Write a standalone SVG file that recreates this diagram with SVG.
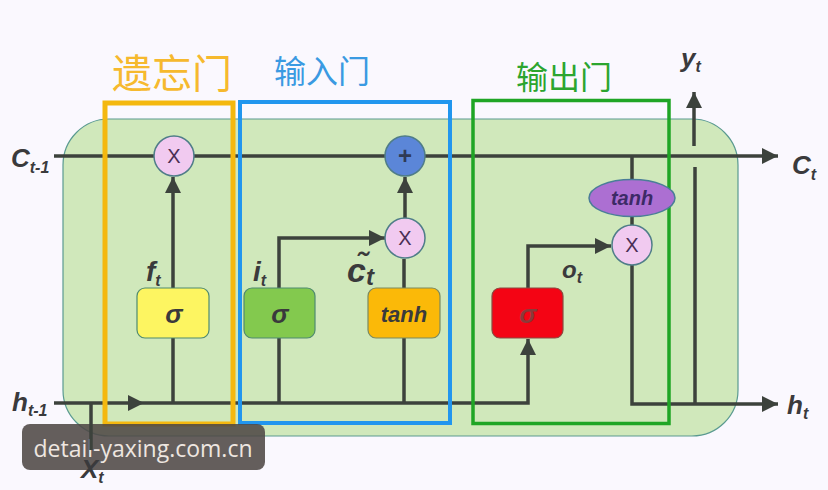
<svg xmlns="http://www.w3.org/2000/svg" width="828" height="490" viewBox="0 0 828 490">
<style>
.w{fill:none;stroke:#3c423c;stroke-width:3.5}
.v{font-family:"Liberation Sans",Arial,sans-serif;font-weight:bold;font-style:italic;fill:#3a3a3c}
.big{font-size:26px}
.sub{font-size:16px}
.m{font-family:"Liberation Sans",Arial,sans-serif;fill:#4a2f55;font-size:20px;text-anchor:middle}
.lbl{font-family:"Noto Sans CJK SC",sans-serif;text-anchor:middle;font-weight:400}
.gate{fill:none;stroke-width:4}
.box{stroke:#4f8a70;stroke-width:1.2}
.mul{fill:#f1caf0;stroke:#4f7d88;stroke-width:1.5}
.st{font-family:"Liberation Sans",Arial,sans-serif;font-weight:bold;font-style:italic;font-size:22px;fill:#3a3a3c;text-anchor:middle}
</style>
<defs>
<marker id="a" markerUnits="userSpaceOnUse" markerWidth="18" markerHeight="18" refX="16" refY="8" orient="auto"><path d="M0 0L16 8L0 16Z" fill="#3c423c"/></marker>
</defs>
<rect width="828" height="490" fill="#faf8fe"/>
<g id="cell"><rect x="63" y="119" width="675" height="317" rx="46" fill="#d0e8bb" stroke="#5a9a90" stroke-width="1.2"/></g>
<g id="connectors">
<path class="w" d="M54 156H778" marker-end="url(#a)"/>
<path class="w" d="M54 403H144" marker-end="url(#a)"/>
<path class="w" d="M144 403H528V339" marker-end="url(#a)"/>
<path class="w" d="M173 403V338M173 288V210"/><path class="w" d="M173 210V177" marker-end="url(#a)"/>
<path class="w" d="M279 403V338M279 288V238H385" marker-end="url(#a)"/>
<path class="w" d="M404 403V338M404 288V259"/>
<path class="w" d="M405 218V177" marker-end="url(#a)"/>
<path class="w" d="M528 288V246H611" marker-end="url(#a)"/>
<path class="w" d="M632 156V266M632 266V404H778" marker-end="url(#a)"/>
<path class="w" d="M695 404V167"/>
<path class="w" d="M694 146V92" marker-end="url(#a)"/>
</g>
<g id="gate-forget"><rect class="gate" x="105" y="103" width="128" height="321" stroke="#f4b80f" style="stroke-width:5"/><text class="lbl" x="172" y="88" font-size="40" fill="#f6b92e">遗忘门</text></g>
<g id="gate-input"><rect class="gate" x="240" y="102" width="210" height="321" stroke="#2196ee"/><text class="lbl" x="322" y="83" font-size="32" fill="#3a9ae2">输入门</text></g>
<g id="gate-output"><rect class="gate" x="473" y="100.500" width="196" height="323" stroke="#1fa525" style="stroke-width:3.5"/><text class="lbl" x="564" y="89" font-size="32" fill="#2ca52f">输出门</text></g>
<g id="mul-f"><circle class="mul" cx="174" cy="156" r="20"/><text class="m" x="174" y="163">X</text></g>
<g id="add"><circle cx="405" cy="156" r="20" fill="#5b86d8" stroke="#4f7d88" stroke-width="1.5"/><text class="m" x="405" y="164" style="fill:#2f3a55;font-size:24px;font-weight:bold">+</text></g>
<g id="mul-c"><circle class="mul" cx="405" cy="238" r="20"/><text class="m" x="405" y="245">X</text></g>
<g id="mul-o"><circle class="mul" cx="632" cy="245" r="20"/><text class="m" x="632" y="252">X</text></g>
<g id="tanh-o"><ellipse cx="632" cy="198" rx="43" ry="18.500" fill="#ac6fd2" stroke="#4a7d98" stroke-width="1.5"/><text class="st" x="632" y="205" style="font-size:20px;fill:#3c2a66">tanh</text></g>
<g id="sigma-f"><rect class="box" x="137" y="288" width="72" height="50" rx="8" fill="#fdf561"/><text class="st" x="174" y="323" style="font-size:26px">σ</text></g>
<g id="sigma-i"><rect class="box" x="244" y="288" width="71" height="50" rx="8" fill="#83c94e"/><text class="st" x="280" y="323" style="font-size:26px">σ</text></g>
<g id="tanh-c"><rect class="box" x="368" y="288" width="72" height="50" rx="8" fill="#fbb908" style="stroke:#7a8a60"/><text class="st" x="404" y="322">tanh</text></g>
<g id="sigma-o"><rect x="492" y="288" width="71" height="50" rx="8" fill="#f40414" stroke="#8a4a40" stroke-width="1.2"/><text class="st" x="528" y="323" style="font-size:26px;fill:#8a3a3a">σ</text></g>
<g id="labels">
<text class="v big" x="11" y="167">C<tspan class="sub" dy="6">t-1</tspan></text>
<text class="v big" x="792" y="174">C<tspan class="sub" dy="6">t</tspan></text>
<text class="v big" x="681" y="67">y<tspan class="sub" dy="5">t</tspan></text>
<text class="v big" x="12" y="411">h<tspan class="sub" dy="5">t-1</tspan></text>
<text class="v big" x="787" y="414">h<tspan class="sub" dy="5">t</tspan></text>
<text class="v big" x="146" y="281" style="font-size:28px">f<tspan class="sub" dy="5">t</tspan></text>
<text class="v big" x="253" y="281" style="font-size:28px">i<tspan class="sub" dy="5">t</tspan></text>
<text class="v big" x="347" y="282" style="font-size:34px">c̃<tspan dy="3" style="font-size:24px">t</tspan></text>
<text class="v big" x="562" y="278" style="font-size:24px">o<tspan class="sub" dy="5">t</tspan></text>
</g>
<g id="watermark"><rect x="22" y="424" width="243" height="46" rx="8" fill="#4f4845" fill-opacity=".88"/><text x="143" y="457" text-anchor="middle" font-family="'Open Sans',sans-serif" font-size="23" fill="#eee6e0">detail-yaxing.com.cn</text></g>
<g id="connector-x"><path class="w" d="M91 403V450"/></g>
<g id="label-x"><text class="v big" x="81" y="478">X<tspan class="sub" dy="5">t</tspan></text></g>
</svg>
